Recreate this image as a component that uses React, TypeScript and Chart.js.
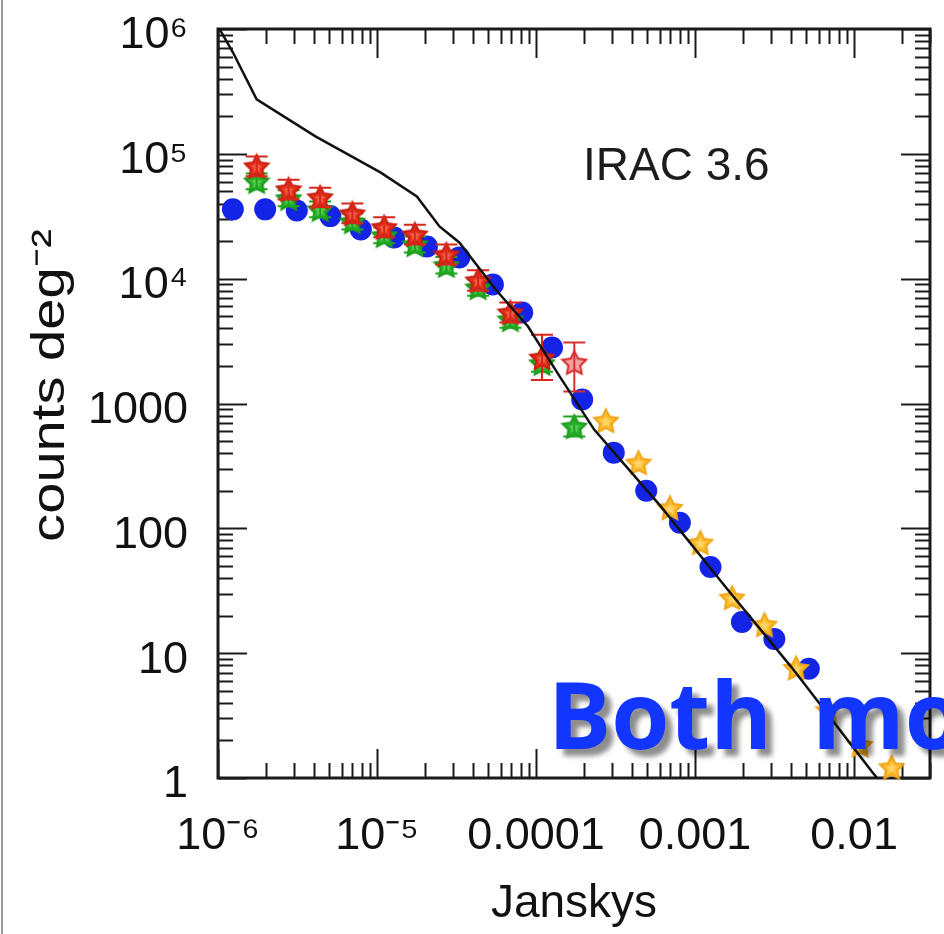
import React, { useEffect, useRef } from 'react';
import { Chart, registerables } from 'chart.js';

Chart.register(...registerables);

const FONT = '"Liberation Sans", Arial, Helvetica, sans-serif';

// axis tick labels and titles
const xTickValues = [1e-6, 1e-5, 1e-4, 1e-3, 1e-2];
const xTickLabels = ['10⁻⁶', '10⁻⁵', '0.0001', '0.001', '0.01'];
const yTickValues = [1, 10, 100, 1000, 1e4, 1e5, 1e6];
const yTickLabels = ['1', '10', '100', '1000', '10⁴', '10⁵', '10⁶'];
const yTitle = 'counts deg⁻²';
const xTitle = 'Janskys';

// blue circles
const blueFlux = [1.24e-6, 1.98e-6, 3.13e-6, 5.08e-6, 7.91e-6, 1.28e-5, 2.06e-5, 3.29e-5, 5.35e-5, 8.18e-5, 1.26e-4, 1.95e-4, 3.08e-4, 4.93e-4, 8.02e-4, 1.25e-3, 1.97e-3, 3.15e-3, 5.19e-3];
const blueCounts = [35900, 35900, 35200, 31700, 24800, 21400, 18100, 14800, 8980, 5360, 2810, 1075, 404, 200, 111, 49, 17.8, 13, 7.5];

// red stars
const redFlux = [1.75e-6, 2.78e-6, 4.39e-6, 7.0e-6, 1.11e-5, 1.73e-5, 2.73e-5, 4.32e-5, 6.9e-5, 1.09e-4];
const redCounts = [79400, 51900, 44800, 33300, 25800, 22600, 15600, 9680, 5360, 2330];
const redLow = [66000, 43000, 37500, 27800, 21500, 18800, 13000, 8000, 4450, 1540];
const redHigh = [95000, 62000, 53500, 40000, 31000, 27000, 18800, 11700, 6450, 3550];

// open red star
const redOpenFlux = [1.74e-4];
const redOpenCounts = [2130];
const redOpenLow = [1250];
const redOpenHigh = [3080];

// green stars
const greenFlux = [1.75e-6, 2.78e-6, 4.39e-6, 7.0e-6, 1.11e-5, 1.73e-5, 2.73e-5, 4.32e-5, 6.9e-5, 1.09e-4, 1.74e-4];
const greenCounts = [60200, 44000, 35900, 28700, 22200, 18800, 12800, 8500, 4710, 2100, 653];
const greenLow = [52000, 38000, 31000, 24800, 19200, 16200, 11000, 7300, 4050, 1800, 545];
const greenHigh = [69500, 51000, 41500, 33200, 25700, 21800, 14900, 9900, 5480, 2450, 785];

// orange stars
const orangeFlux = [2.75e-4, 4.41e-4, 6.95e-4, 1.08e-3, 1.71e-3, 2.73e-3, 4.32e-3, 6.9e-3, 1.09e-2, 1.72e-2];
const orangeCounts = [729, 336, 146, 76.7, 27.8, 16.9, 7.6, 3.5, 1.84, 1.22];

// model curve
const modelFlux = [1e-6, 1.24e-6, 1.75e-6, 4.1e-6, 1.05e-5, 1.78e-5, 2.47e-5, 3.29e-5, 5.57e-5, 8.9e-5, 1.45e-4, 2.32e-4, 6.03e-4, 1.55e-3, 4.02e-3, 1.31e-2, 3.0e-2];
const modelCounts = [1.05e6, 651000, 273000, 138000, 71000, 45600, 26200, 19500, 8190, 4140, 1555, 618, 152, 34, 7.77, 1.1, 0.31];

const toPts = (xs: number[], ys: number[]) => xs.map((x, i) => ({ x, y: ys[i] }));

function makeStar(size: number, fill: string, stroke: string, inner?: string) {
  const c = document.createElement('canvas');
  c.width = size;
  c.height = size;
  const g = c.getContext('2d')!;
  const cx = size / 2;
  const cy = size / 2 + size * 0.04;
  const R = size / 2 - 1.5;
  const r = R * 0.5;
  const path = (RR: number, rr: number) => {
    g.beginPath();
    for (let k = 0; k < 10; k++) {
      const ang = -Math.PI / 2 + (k * Math.PI) / 5;
      const rad = k % 2 === 0 ? RR : rr;
      const px = cx + rad * Math.cos(ang);
      const py = cy + rad * Math.sin(ang);
      if (k === 0) g.moveTo(px, py);
      else g.lineTo(px, py);
    }
    g.closePath();
  };
  path(R, r);
  g.fillStyle = fill;
  g.fill();
  g.lineWidth = 2;
  g.strokeStyle = stroke;
  g.stroke();
  if (inner) {
    path(R * 0.45, r * 0.45);
    g.fillStyle = inner;
    g.fill();
  }
  return c;
}

const errLookup: Record<string, { lo: number[]; hi: number[]; color: string }> = {
  red: { lo: redLow, hi: redHigh, color: '#d8261a' },
  redOpen: { lo: redOpenLow, hi: redOpenHigh, color: '#d83030' },
  green: { lo: greenLow, hi: greenHigh, color: '#1ea51e' },
};

const errorBars = {
  id: 'errorBars',
  afterDatasetDraw(chart: any, args: any) {
    const ds = chart.data.datasets[args.index];
    const e = errLookup[ds.label];
    if (!e) return;
    const { ctx, scales } = chart;
    const xs = scales.x;
    const ys = scales.y;
    ctx.save();
    ctx.strokeStyle = e.color;
    ctx.lineWidth = 2;
    ds.data.forEach((p: any, i: number) => {
      const px = xs.getPixelForValue(p.x);
      const y1 = ys.getPixelForValue(e.lo[i]);
      const y2 = ys.getPixelForValue(e.hi[i]);
      ctx.beginPath();
      ctx.moveTo(px, y1);
      ctx.lineTo(px, y2);
      ctx.moveTo(px - 11, y1);
      ctx.lineTo(px + 11, y1);
      ctx.moveTo(px - 11, y2);
      ctx.lineTo(px + 11, y2);
      ctx.stroke();
    });
    ctx.restore();
  },
};

const frameTicks = {
  id: 'frameTicks',
  beforeDatasetsDraw(chart: any) {
    const { ctx, chartArea: a, scales } = chart;
    const xs = scales.x;
    const ys = scales.y;
    ctx.save();
    ctx.strokeStyle = '#1a1a1a';
    ctx.lineWidth = 2;
    const seg = (x1: number, y1: number, x2: number, y2: number) => {
      ctx.beginPath();
      ctx.moveTo(x1, y1);
      ctx.lineTo(x2, y2);
      ctx.stroke();
    };
    const e0x = Math.floor(Math.log10(xs.min) + 1e-9);
    const e1x = Math.ceil(Math.log10(xs.max) - 1e-9);
    for (let e = e0x; e <= e1x; e++) {
      for (let m = 1; m <= 9; m++) {
        const v = m * Math.pow(10, e);
        if (v < xs.min * 0.9999 || v > xs.max * 1.0001) continue;
        const px = Math.round(xs.getPixelForValue(v)) + 0.5;
        const len = m === 1 ? 29 : 15;
        seg(px, a.bottom, px, a.bottom - len);
        seg(px, a.top, px, a.top + len);
      }
    }
    const e0y = Math.floor(Math.log10(ys.min) + 1e-9);
    const e1y = Math.ceil(Math.log10(ys.max) - 1e-9);
    for (let e = e0y; e <= e1y; e++) {
      for (let m = 1; m <= 9; m++) {
        const v = m * Math.pow(10, e);
        if (v < ys.min * 0.9999 || v > ys.max * 1.0001) continue;
        const py = Math.round(ys.getPixelForValue(v)) + 0.5;
        const len = m === 1 ? 29 : 15;
        seg(a.left, py, a.left + len, py);
        seg(a.right, py, a.right - len, py);
      }
    }
    ctx.lineWidth = 3;
    ctx.strokeRect(a.left, a.top, a.right - a.left, a.bottom - a.top);
    ctx.restore();
  },
};

// y-axis title drawn slightly stretched along its length, like the source figure
const yTitlePlugin = {
  id: 'yTitlePlugin',
  afterDraw(chart: any) {
    const { ctx, chartArea: a } = chart;
    ctx.save();
    ctx.translate(51, (a.top + a.bottom) / 2 - 18);
    ctx.rotate(-Math.PI / 2);
    ctx.scale(1.22, 1);
    ctx.font = `46px ${FONT}`;
    ctx.fillStyle = '#111111';
    ctx.textAlign = 'center';
    ctx.textBaseline = 'middle';
    ctx.fillText(yTitle, 0, 0);
    ctx.restore();
  },
};

export default function App() {
  const ref = useRef<HTMLCanvasElement | null>(null);

  useEffect(() => {
    if (!ref.current) return;
    const redStar = makeStar(28, '#e4301c', '#c81e10', '#f06048');
    const redOpenStar = makeStar(28, '#f3a0a0', '#d52828');
    const greenStar = makeStar(28, '#2cb42c', '#1d9a1d', '#58cc58');
    const orangeStar = makeStar(28, '#fcbd2e', '#f0a61a', '#ffd466');

    const chart = new Chart(ref.current, {
      type: 'scatter',
      data: {
        datasets: [
          {
            label: 'model',
            data: toPts(modelFlux, modelCounts),
            showLine: true,
            borderColor: '#111111',
            borderWidth: 2.5,
            pointRadius: 0,
            tension: 0,
            fill: false,
          },
          {
            label: 'orange',
            data: toPts(orangeFlux, orangeCounts),
            pointStyle: orangeStar as any,
            pointRadius: 13,
            clip: false as any,
          },
          {
            label: 'redOpen',
            data: toPts(redOpenFlux, redOpenCounts),
            pointStyle: redOpenStar as any,
            pointRadius: 13,
            clip: false as any,
          },
          {
            label: 'red',
            data: toPts(redFlux, redCounts),
            pointStyle: redStar as any,
            pointRadius: 13,
            clip: false as any,
          },
          {
            label: 'green',
            data: toPts(greenFlux, greenCounts),
            pointStyle: greenStar as any,
            pointRadius: 13,
            clip: false as any,
          },
          {
            label: 'blue',
            data: toPts(blueFlux, blueCounts),
            pointStyle: 'circle',
            pointRadius: 11,
            backgroundColor: '#1424e6',
            borderColor: '#1424e6',
            borderWidth: 0,
            clip: false as any,
          },
        ],
      },
      options: {
        responsive: false,
        animation: false,
        devicePixelRatio: 1,
        layout: { padding: { left: 0, top: 29, right: 4, bottom: 0 } },
        plugins: {
          legend: { display: false },
          tooltip: { enabled: false },
        },
        scales: {
          x: {
            type: 'logarithmic',
            position: 'bottom',
            min: 1e-6,
            max: 0.03,
            grid: { display: false, drawTicks: false },
            border: { display: false },
            afterBuildTicks: (s: any) => {
              s.ticks = xTickValues.map((v) => ({ value: v }));
            },
            afterFit: (s: any) => {
              s.height = 156;
              s.paddingLeft = 0;
              s.paddingRight = 0;
            },
            ticks: {
              autoSkip: false,
              maxRotation: 0,
              minRotation: 0,
              padding: 32,
              color: '#111111',
              font: { family: FONT, size: 45 },
              callback: (_v: any, i: number) => xTickLabels[i],
            },
            title: {
              display: true,
              text: xTitle,
              color: '#111111',
              font: { family: FONT, size: 46 },
              padding: { top: 0, bottom: 2 },
            },
          },
          y: {
            type: 'logarithmic',
            position: 'left',
            min: 1,
            max: 1e6,
            grid: { display: false, drawTicks: false },
            border: { display: false },
            afterBuildTicks: (s: any) => {
              s.ticks = yTickValues.map((v) => ({ value: v }));
            },
            afterFit: (s: any) => {
              s.width = 218;
              s.paddingTop = 0;
              s.paddingBottom = 0;
            },
            ticks: {
              autoSkip: false,
              padding: 30,
              labelOffset: 7,
              color: '#111111',
              font: { family: FONT, size: 45 },
              callback: (_v: any, i: number) => yTickLabels[i],
            },
            title: { display: false },
          },
        },
      } as any,
      plugins: [frameTicks, errorBars, yTitlePlugin],
    });
    return () => chart.destroy();
  }, []);

  return (
    <div
      style={{
        position: 'fixed',
        left: 0,
        top: 0,
        width: 944,
        height: 934,
        overflow: 'hidden',
        background: '#ffffff',
      }}
    >
      <canvas ref={ref} width={944} height={934} style={{ display: 'block', width: 944, height: 934 }} />
      <div
        style={{
          position: 'absolute',
          left: 1,
          top: 0,
          width: 2,
          height: 934,
          background: '#9a9a9a',
        }}
      />
      <div
        style={{
          position: 'absolute',
          left: 583,
          top: 141,
          font: `46px ${FONT}`,
          lineHeight: '46px',
          color: '#1c1c1c',
          whiteSpace: 'nowrap',
        }}
      >
        IRAC 3.6
      </div>
      <div
        style={{
          position: 'absolute',
          left: 548,
          top: 666,
          fontFamily: '"Open Sans", "Noto Sans", sans-serif',
          fontWeight: 700,
          fontSize: 94,
          lineHeight: '94px',
          wordSpacing: 16,
          color: '#1236ff',
          whiteSpace: 'nowrap',
          textShadow: '7px 7px 5px rgba(0,0,0,0.45)',
        }}
      >
        Both mo
      </div>
    </div>
  );
}
